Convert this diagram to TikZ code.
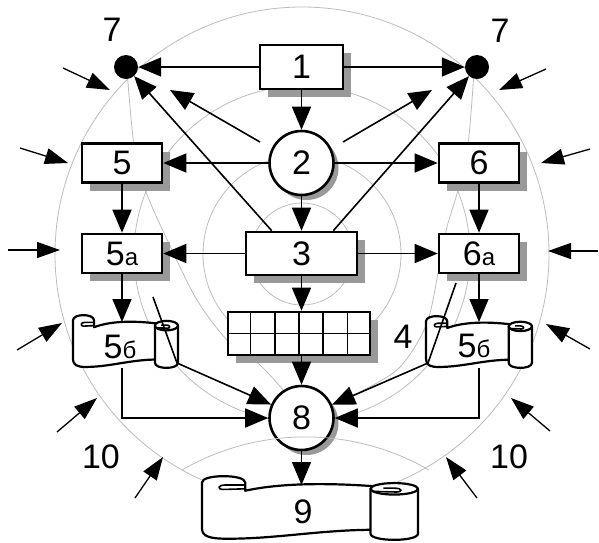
\documentclass[tikz,border=0pt]{standalone}
\usepackage{fontspec}
\setmainfont{Liberation Sans}
\usetikzlibrary{arrows.meta,calc}
\definecolor{ringgray}{HTML}{BDBDBD}
\newcommand{\digitfont}{\fontsize{34}{36}\selectfont}
\newcommand{\subfont}{\fontsize{24}{26}\selectfont}
\newcommand{\scrollshape}[4]{%
\begin{scope}[shift={(#1,#2)}, xscale=#3, yscale=#4, line width=2.2pt, line join=round]
 \filldraw[fill=white] (0,0.1) -- (0,0.82) .. controls (0,0.95) and (0.04,0.98) .. (0.12,0.98) .. controls (0.35,0.98) and (0.55,0.84) .. (0.8,0.84) -- (0.8,0.16) .. controls (0.55,0.1) and (0.35,0.12) .. (0.2,0.23) -- (0.2,0.1) .. controls (0.2,-0.03) and (0,-0.03) .. cycle;
 \draw[line width=1.6pt] (0.2,0.2) -- (0.1,0.21) .. controls (0.07,0.21) and (0.07,0.14) .. (0.11,0.14) -- (0.2,0.14);
 \filldraw[fill=white] (0.78,0.2) -- (0.78,0.9) .. controls (0.78,1.03) and (1,1.03) .. (1,0.9) -- (1,0.2) -- cycle;
 \filldraw[fill=white] (0.89,0.2) ellipse [x radius=0.11, y radius=0.09];
 \draw[line width=1.6pt] (0.79,0.24) -- (0.9,0.25) .. controls (0.93,0.25) and (0.93,0.19) .. (0.89,0.19) -- (0.84,0.19);
\end{scope}}
\begin{document}
\begin{tikzpicture}[x=1pt,y=-1pt,
 box/.style={draw, line width=2.6pt, fill=white, inner sep=0pt, font=\digitfont},
 rnd/.style={circle, draw, line width=2.6pt, fill=white, inner sep=0pt, minimum size=64pt, font=\digitfont},
 dot/.style={circle, fill=black, inner sep=0pt, minimum size=24pt},
 lbl/.style={font=\digitfont, inner sep=0pt},
 ring/.style={draw=ringgray, line width=0.8pt},
 shadowfill/.style={fill=black!40},
 arr/.style={line width=1.6pt, -{Triangle[length=23pt,width=19pt]}},
 oarr/.style={line width=1.3pt, -{Triangle[length=23pt,width=16pt]}},
 area/.style={inner sep=0pt, anchor=north west}
 ]
\useasboundingbox (0,0) rectangle (599,542);
\fill[white] (0,0) rectangle (599,542);

% background rings
\coordinate (ctr) at (302,254);
\foreach \r in {51,99,168,247} \draw[ring] (ctr) circle [radius=\r];
\draw[ring] plot[smooth] coordinates {(127,70) (134,145) (146,192) (172,250) (197,300) (227,340) (260,365) (285,392)};
\draw[ring] plot[smooth] coordinates {(474,72) (468,145) (458,190) (447,227) (440,262) (427,323) (400,367) (360,392) (330,405)};

% drop shadows
\fill[shadowfill] (268,53) rectangle (351,97);
\fill[shadowfill] (90,151.5) rectangle (170,190.5);
\fill[shadowfill] (447,151.5) rectangle (527,190.5);
\fill[shadowfill] (90,242) rectangle (170,281);
\fill[shadowfill] (447,242) rectangle (527,281);
\fill[shadowfill] (254,240) rectangle (365,283);
\fill[shadowfill] (236,320) rectangle (378,363);
\fill[shadowfill] (306.5,168) circle [radius=32];
\fill[shadowfill] (306.5,423) circle [radius=32];

% boxes and circles
\node[box, minimum width=83pt, minimum height=44pt] (b1) at (301.5,67) {1};
\node[rnd] (c2) at (301.5,163) {2};
\node[box, minimum width=80pt, minimum height=39pt] (b5) at (122,163) {5};
\node[box, minimum width=80pt, minimum height=39pt] (b6) at (479,163) {6};
\node[box, minimum width=80pt, minimum height=39pt] (b5a) at (122,253.5) {5\subfont а};
\node[box, minimum width=80pt, minimum height=39pt] (b6a) at (479,253.5) {6\subfont а};
\node[box, minimum width=111pt, minimum height=43pt] (b3) at (301.5,253.5) {3};
\node[box, minimum width=142pt, minimum height=43pt] (g4) at (299,333.5) {};
\foreach \i in {1,...,5}
  \draw[line width=1.3pt] ($(g4.north west)!\i/6!(g4.north east)$) -- ($(g4.south west)!\i/6!(g4.south east)$);
\draw[line width=1.3pt] (g4.west) -- (g4.east);
\node[rnd] (c8) at (301.5,418) {8};

% scrolls
\node[area, minimum width=105pt, minimum height=53pt] (s5L) at (73,315) {};
\scrollshape{73}{315}{105}{53}
\node[area, minimum width=106pt, minimum height=52pt] (s5R) at (426,316) {};
\scrollshape{426}{316}{106}{52}
\node[area, minimum width=216pt, minimum height=64pt] (s9) at (202,476) {};
\scrollshape{202}{476}{216}{64}
\draw[ring] (ctr) ++(-120,216) arc [start angle=240, end angle=300, radius=247];

% dots and labels
\node[dot] (d7L) at (126,67) {};
\node[dot] (d7R) at (477,67) {};
\node[lbl] (l7L) at (112,30) {7};
\node[lbl] (l7R) at (500,31) {7};
\node[lbl] (l4) at (403,337) {4};
\node[lbl] (l5bL) at (120,347) {5\subfont б};
\node[lbl] (l5bR) at (474,346) {5\subfont б};
\node[lbl] (l9) at (303,512) {9};
\node[lbl] (l10L) at (101,457) {10};
\node[lbl] (l10R) at (509,457) {10};

% connectors
\draw[arr] (b1) -- (d7L);
\draw[arr] (b1) -- (d7R);
\draw[arr] (b1) -- (c2);
\draw[arr] (c2) -- (b5);
\draw[arr] (c2) -- (b6);
\draw[arr] (c2) -- (b3);
\draw[arr] (b3) -- (b5a);
\draw[arr] (b3) -- (b6a);
\draw[arr] (b3.south) -- (b3.south |- g4.north);
\draw[arr] (g4.south -| c8.north) -- (c8.north);
\coordinate (s9top) at (301.5,485);
\draw[arr] (c8) -- (s9top);
\draw[arr] (b5) -- (b5a);
\draw[arr] (b6) -- (b6a);
\coordinate (s5Ltop) at (122,322);
\coordinate (s5Rtop) at (479,322);
\draw[arr] (b5a) -- (s5Ltop);
\draw[arr] (b6a) -- (s5Rtop);
\coordinate (b3nl) at ($(b3.north west)+(27,0)$);
\coordinate (b3nr) at ($(b3.north east)+(-25,0)$);
\draw[arr] (b3nl) -- (d7L);
\draw[arr] (b3nr) -- (d7R);
\coordinate (f2L) at (260,142); \coordinate (t2L) at (170,90);
\coordinate (f2R) at (343,142); \coordinate (t2R) at (432,90);
\draw[arr] (f2L) -- (t2L);
\draw[arr] (f2R) -- (t2R);
\coordinate (pL1) at (153,297); \coordinate (pL2) at (177,363);
\draw[arr] (pL1) -- (pL2) -- (c8);
\coordinate (pR1) at (456,283); \coordinate (pR2) at (428,363);
\draw[arr] (pR1) -- (pR2) -- (c8);
\coordinate (s5Lbot) at (122,368); \coordinate (s5Rbot) at (479,368);
\draw[arr] (s5Lbot) |- (c8);
\draw[arr] (s5Rbot) |- (c8);

% outer inward arrows
\foreach \a/\b/\c/\d [count=\i] in {63/68/110/90, 20/148/68/163, 8/250/60/250, 17/350/62/323, 57/432/97/398, 135/498/163/457,
  546/69/499/90, 590/149/541/163, 598/251/548/251, 590/349/546/324, 550/431/511/398, 477/498/446/457}
{
  \coordinate (os\i) at (\a,\b);
  \coordinate (oe\i) at (\c,\d);
  \draw[oarr] (os\i) -- (oe\i);
}
\end{tikzpicture}
\end{document}
